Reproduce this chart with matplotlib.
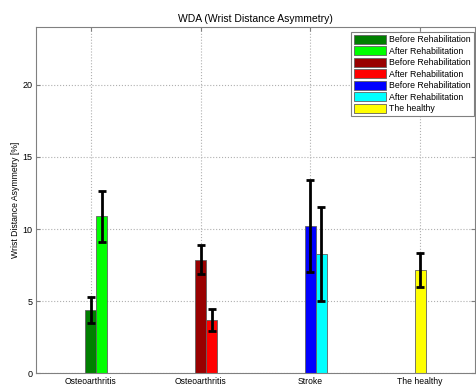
import numpy as np
import matplotlib.pyplot as plt

plt.rcParams['font.family'] = ['Liberation Sans', 'DejaVu Sans']

groups = ["Osteoarthritis\nMild", "Osteoarthritis\nModerate", "Stroke", "The healthy"]
labels = ["Before Rehabilitation", "After Rehabilitation",
          "Before Rehabilitation", "After Rehabilitation",
          "Before Rehabilitation", "After Rehabilitation",
          "The healthy"]
colors = ["#007f00", "#00ff00", "#990000", "#ff0000", "#0000ff", "#00ffff", "#ffff00"]
group_idx = [0, 0, 1, 1, 2, 2, 3]
offset_idx = [0, 1, 0, 1, 0, 1, 0]
means = [4.37, 10.87, 7.88, 3.68, 10.18, 8.29, 7.15]
errs = [0.9, 1.8, 1.03, 0.75, 3.19, 3.25, 1.19]

width = 0.1
fig = plt.figure(figsize=(4.76, 3.87), dpi=100)
ax = fig.add_axes([0.0756, 0.0354, 0.9224, 0.8946])

x = np.arange(1, len(groups) + 1)
for i in range(len(means)):
    xpos = x[group_idx[i]] + offset_idx[i] * width
    ax.bar(xpos, means[i], width=width, color=colors[i], edgecolor="#606060",
           linewidth=0.6, label=labels[i], zorder=2)
    ax.errorbar(xpos, means[i], yerr=errs[i], fmt="none", ecolor="black",
                elinewidth=2, capsize=3, capthick=2, zorder=3)

ax.set_xlim(0.5, 4.5)
ax.set_ylim(0, 24)
ax.set_xticks(x)
ax.set_xticklabels(groups, fontsize=6.2)
ax.set_yticks([0, 5, 10, 15, 20])
ax.tick_params(axis="y", labelsize=6.5)
ax.tick_params(direction="in", length=3, color="#808080", top=True, right=True, pad=2.5)
ax.grid(True, linestyle=":", color="#b0b0b0", linewidth=0.8, zorder=0)
ax.set_axisbelow(True)
for s in ax.spines.values():
    s.set_color("#808080")

ax.set_title("WDA (Wrist Distance Asymmetry)", fontsize=7.5, pad=4)
ax.set_ylabel("Wrist Distance Asymmetry [%]", fontsize=6.2, labelpad=2)

leg = ax.legend(loc="upper right", bbox_to_anchor=(0.997, 0.986), fontsize=6.3,
                fancybox=False, framealpha=1, edgecolor="#808080",
                handlelength=3.6, handleheight=1.15, labelspacing=0.25,
                borderpad=0.35, handletextpad=0.4, borderaxespad=0)
leg.get_frame().set_linewidth(0.8)

fig.savefig("out.png", dpi=100)
